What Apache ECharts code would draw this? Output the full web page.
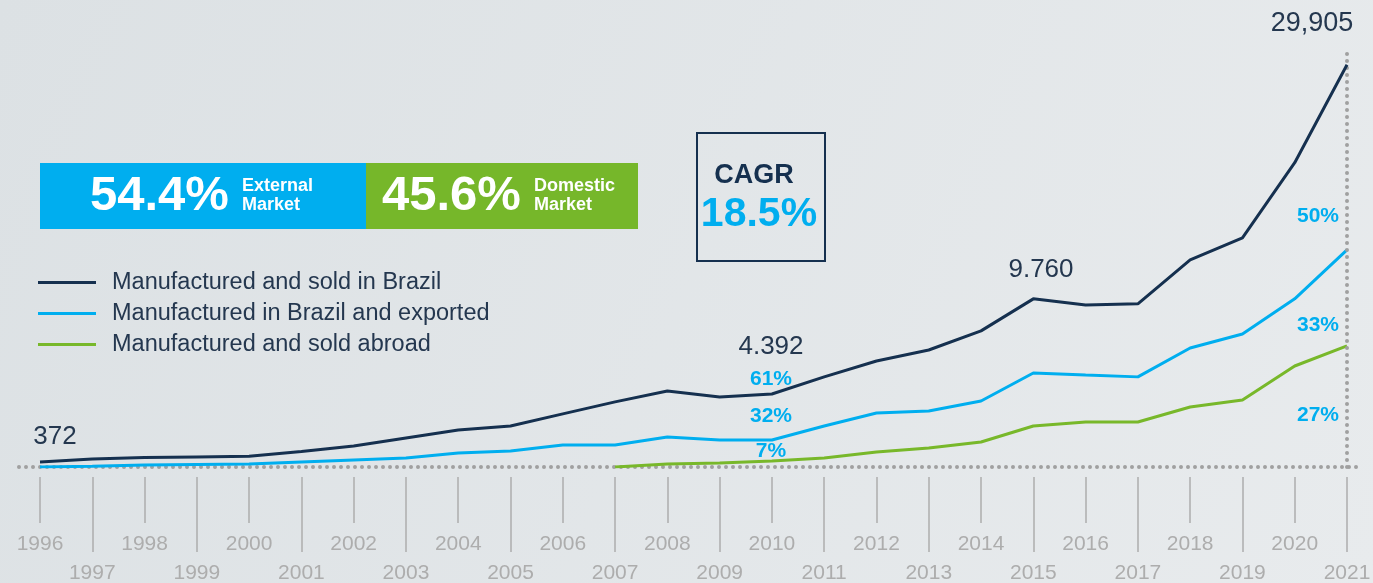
<!DOCTYPE html>
<html>
<head>
<meta charset="utf-8">
<script src="https://cdn.jsdelivr.net/npm/echarts@6/dist/echarts.min.js"></script>
<style>
html,body{margin:0;padding:0;background:#e2e6e8;}
#chart{width:1373px;height:583px;}
</style>
</head>
<body>
<div id="chart"></div>
<script>
// years on the x axis
var years = ['1996','1997','1998','1999','2000','2001','2002','2003','2004','2005','2006','2007','2008',
             '2009','2010','2011','2012','2013','2014','2015','2016','2017','2018','2019','2020','2021'];

// values (units)
var soldInBrazil = [372, 600, 700, 750, 800, 1150, 1560, 2160, 2750, 3050, 3950, 4840, 5650,
                    5210, 5430, 6700, 7880, 8700, 10120, 12500, 12050, 12130, 15400, 17040, 22620, 29905];
var exported     = [0, 50, 150, 190, 220, 370, 520, 670, 1040, 1190, 1640, 1640, 2230,
                    2010, 2010, 3050, 4020, 4170, 4910, 6990, 6840, 6700, 8850, 9890, 12500, 16140];
var soldAbroad   = ['-', '-', '-', '-', '-', '-', '-', '-', '-', '-', '-', 0, 220,
                    300, 450, 670, 1120, 1410, 1860, 3050, 3350, 3350, 4460, 4980, 7510, 9000];

var seriesNames = ['Manufactured and sold in Brazil', 'Manufactured in Brazil and exported', 'Manufactured and sold abroad'];
var colors = ['#15304f', '#00aeef', '#78b82a'];

var navy = '#15304f';
var cyan = '#00aeef';
var gray = '#adadad';
var fontMain = '"Liberation Sans", Arial, sans-serif';

function evenYear(i) { return i % 2 === 0; }
function oddYear(i) { return i % 2 === 1; }

var chart = echarts.init(document.getElementById('chart'));

chart.setOption({
    backgroundColor: new echarts.graphic.LinearGradient(0, 0, 1, 1, [
        {offset: 0, color: '#dce1e4'},
        {offset: 1, color: '#e8ebed'}
    ]),
    animation: false,
    color: colors,
    grid: {left: 40, right: 26, top: 50, bottom: 116, outerBoundsMode: 'none'},
    legend: {
        orient: 'vertical',
        left: 33,
        top: 265,
        icon: 'rect',
        itemWidth: 58,
        itemHeight: 3,
        itemGap: 6,
        textStyle: {
            color: '#24374f',
            fontSize: 23.5,
            fontFamily: fontMain,
            lineHeight: 25,
            padding: [0, 0, 0, 11]
        },
        data: seriesNames
    },
    xAxis: [
        {
            type: 'category',
            data: years,
            boundaryGap: false,
            offset: 10,
            axisLine: {show: false, onZero: false},
            axisTick: {show: true, interval: function (i) { return evenYear(i); }, length: 46,
                       lineStyle: {color: gray, width: 1.5}},
            axisLabel: {interval: function (i) { return evenYear(i); }, margin: 57,
                        color: gray, fontSize: 21, lineHeight: 21, fontFamily: fontMain}
        },
        {
            type: 'category',
            data: years,
            boundaryGap: false,
            offset: 10,
            position: 'bottom',
            axisLine: {show: false, onZero: false},
            axisTick: {show: true, interval: function (i) { return oddYear(i); }, length: 75,
                       lineStyle: {color: gray, width: 1.5}},
            axisLabel: {interval: function (i) { return oddYear(i); }, margin: 86,
                        color: gray, fontSize: 21, lineHeight: 21, fontFamily: fontMain}
        }
    ],
    yAxis: {
        type: 'value',
        min: 0,
        max: 31000,
        show: false,
        splitLine: {show: false}
    },
    series: [
        {
            name: seriesNames[0],
            type: 'line',
            data: soldInBrazil,
            showSymbol: false,
            z: 5,
            lineStyle: {width: 3, color: colors[0]},
            markLine: {
                silent: true,
                symbol: 'none',
                label: {show: false},
                lineStyle: {type: [0, 7], cap: 'round', width: 4, color: '#a0a0a0'},
                data: [{xAxis: '2021'}]
            }
        },
        {
            name: seriesNames[1],
            type: 'line',
            data: exported,
            showSymbol: false,
            z: 4,
            lineStyle: {width: 3, color: colors[1]}
        },
        {
            name: seriesNames[2],
            type: 'line',
            data: soldAbroad,
            showSymbol: false,
            z: 3,
            lineStyle: {width: 3, color: colors[2]}
        }
    ],
    graphic: [
        // dotted baseline
        {type: 'line', z: 1, shape: {x1: 19, y1: 467, x2: 1362, y2: 467},
         style: {stroke: '#a0a0a0', lineWidth: 4, lineDash: [0, 7], lineCap: 'round'}},

        // share boxes
        {type: 'rect', shape: {x: 40, y: 163, width: 326, height: 66}, style: {fill: '#00aeef'}},
        {type: 'rect', shape: {x: 366, y: 163, width: 272, height: 66}, style: {fill: '#76b72a'}},
        {type: 'text', x: 90, y: 196, style: {text: '54.4%', fill: '#fff', font: 'bold 49px ' + fontMain, textVerticalAlign: 'middle'}},
        {type: 'text', x: 242, y: 196, style: {text: 'External\nMarket', fill: '#fff', font: 'bold 18px ' + fontMain, lineHeight: 19, textVerticalAlign: 'middle'}},
        {type: 'text', x: 382, y: 196, style: {text: '45.6%', fill: '#fff', font: 'bold 49px ' + fontMain, textVerticalAlign: 'middle'}},
        {type: 'text', x: 534, y: 196, style: {text: 'Domestic\nMarket', fill: '#fff', font: 'bold 18px ' + fontMain, lineHeight: 19, textVerticalAlign: 'middle'}},

        // CAGR box
        {type: 'rect', shape: {x: 697, y: 133, width: 128, height: 128}, style: {fill: 'none', stroke: navy, lineWidth: 2}},
        {type: 'text', x: 754, y: 176, style: {text: 'CAGR', fill: navy, font: 'bold 27px ' + fontMain, textAlign: 'center', textVerticalAlign: 'middle'}},
        {type: 'text', x: 759, y: 215, style: {text: '18.5%', fill: cyan, font: 'bold 41px ' + fontMain, textAlign: 'center', textVerticalAlign: 'middle'}},

        // value annotations
        {type: 'text', x: 55, y: 437, style: {text: '372', fill: '#24374f', font: '26px ' + fontMain, textAlign: 'center', textVerticalAlign: 'middle'}},
        {type: 'text', x: 771, y: 347, style: {text: '4.392', fill: '#24374f', font: '26px ' + fontMain, textAlign: 'center', textVerticalAlign: 'middle'}},
        {type: 'text', x: 1041, y: 270, style: {text: '9.760', fill: '#24374f', font: '26px ' + fontMain, textAlign: 'center', textVerticalAlign: 'middle'}},
        {type: 'text', x: 1312, y: 24, style: {text: '29,905', fill: '#24374f', font: '27px ' + fontMain, textAlign: 'center', textVerticalAlign: 'middle'}},

        // share annotations
        {type: 'text', x: 771, y: 379, style: {text: '61%', fill: cyan, font: 'bold 21px ' + fontMain, textAlign: 'center', textVerticalAlign: 'middle'}},
        {type: 'text', x: 771, y: 416, style: {text: '32%', fill: cyan, font: 'bold 21px ' + fontMain, textAlign: 'center', textVerticalAlign: 'middle'}},
        {type: 'text', x: 771, y: 451, style: {text: '7%', fill: cyan, font: 'bold 21px ' + fontMain, textAlign: 'center', textVerticalAlign: 'middle'}},
        {type: 'text', x: 1318, y: 216, style: {text: '50%', fill: cyan, font: 'bold 21px ' + fontMain, textAlign: 'center', textVerticalAlign: 'middle'}},
        {type: 'text', x: 1318, y: 325, style: {text: '33%', fill: cyan, font: 'bold 21px ' + fontMain, textAlign: 'center', textVerticalAlign: 'middle'}},
        {type: 'text', x: 1318, y: 415, style: {text: '27%', fill: cyan, font: 'bold 21px ' + fontMain, textAlign: 'center', textVerticalAlign: 'middle'}}
    ]
});
</script>
</body>
</html>
